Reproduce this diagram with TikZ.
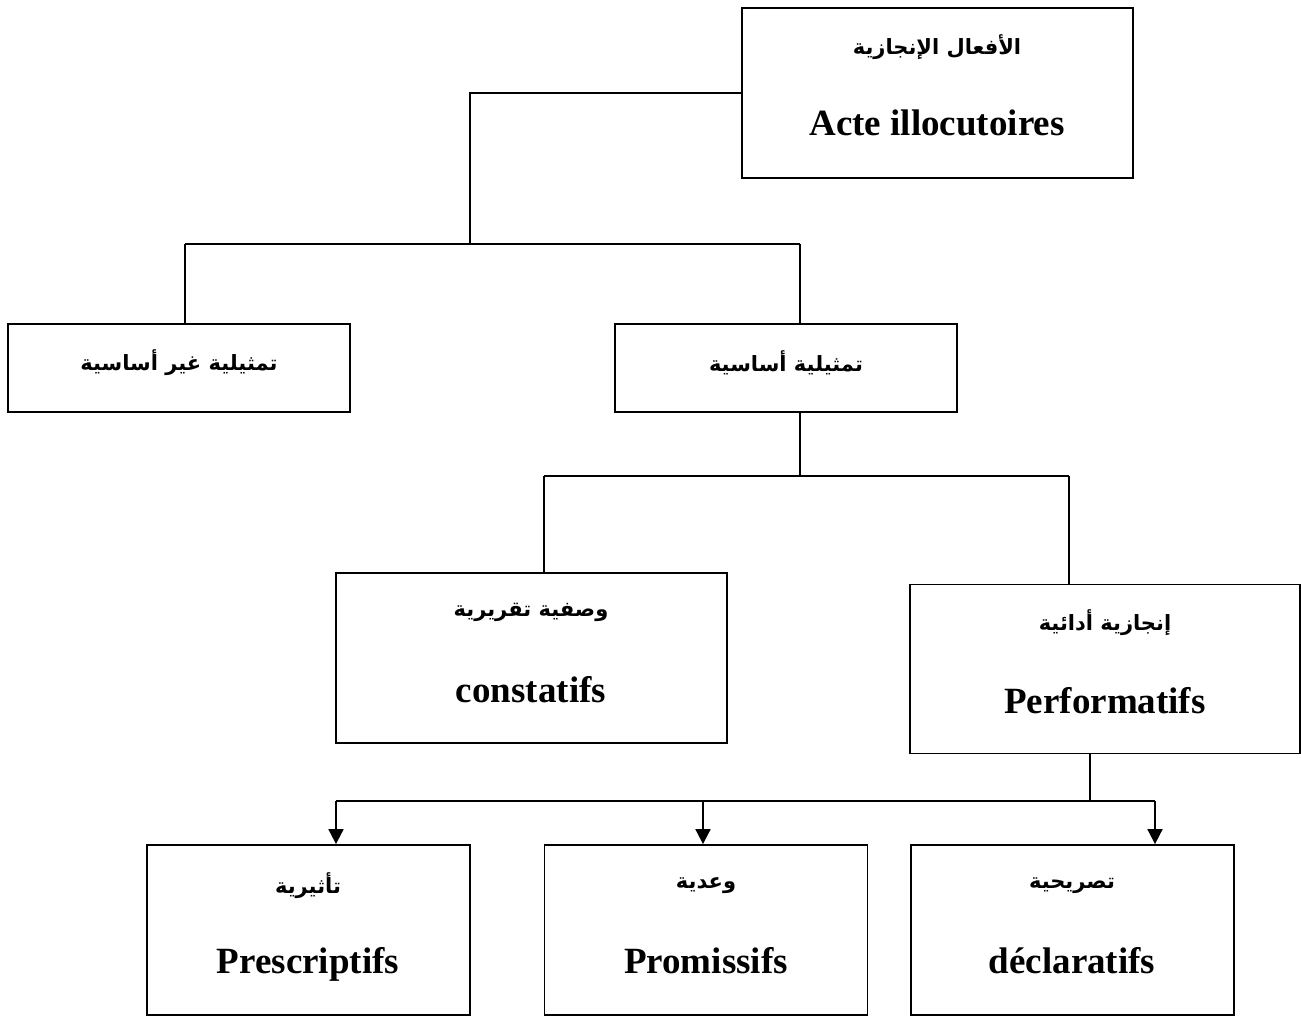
\documentclass[tikz,border=0pt]{standalone}
\usepackage{fontspec}
\setmainfont{Liberation Serif}
\newfontfamily\arabicfont[Script=Arabic]{DejaVu Sans}
\TeXXeTstate=1
\usetikzlibrary{arrows.meta}

\tikzset{
  box/.style={draw, line width=1.8pt, rectangle, inner sep=0pt},
  link/.style={line width=1.8pt},
  arrowlink/.style={line width=1.8pt, -{Triangle[width=15pt,length=15pt]}},
  lat/.style={anchor=base, inner sep=0pt, font=\fontsize{37}{44}\selectfont\bfseries},
  ar/.style={inner sep=0pt, font=\fontsize{21}{26}\selectfont\arabicfont\bfseries},
}
\newcommand{\rtl}[1]{\beginR #1\endR}

\begin{document}
\begin{tikzpicture}[x=1pt, y=-1pt]
\useasboundingbox (0,0) rectangle (1301,1016);

% boxes
\node[box, minimum width=391pt, minimum height=170pt] (top) at (937.5,93) {};
\node[box, minimum width=342pt, minimum height=88pt] (left) at (179,368) {};
\node[box, minimum width=342pt, minimum height=88pt] (mid) at (786,368) {};
\node[box, minimum width=391pt, minimum height=170pt] (cons) at (531.5,658) {};
\node[box, minimum width=390pt, minimum height=169pt] (perf) at (1105,669) {};
\node[box, minimum width=323pt, minimum height=170pt] (pres) at (308.5,930) {};
\node[box, minimum width=323pt, minimum height=170pt] (prom) at (706,930) {};
\node[box, minimum width=323pt, minimum height=170pt] (decl) at (1072.5,930) {};

% labels
\node[ar] (t1) at (937,47) {\rtl{الأفعال الإنجازية}};
\node[lat] (t2) at (937,136) {Acte illocutoires};
\node[ar] (t3) at (179,363) {\rtl{تمثيلية غير أساسية}};
\node[ar] (t4) at (786,363) {\rtl{تمثيلية أساسية}};
\node[ar] (t5) at (531,612) {\rtl{وصفية تقريرية}};
\node[lat] (t6) at (531,702) {constatifs};
\node[ar] (t7) at (1105,623) {\rtl{إنجازية أدائية}};
\node[lat] (t8) at (1105,713) {Performatifs};
\node[ar] (t9) at (308,886) {\rtl{تأثيرية}};
\node[lat] (t10) at (308,973) {Prescriptifs};
\node[ar] (t11) at (706,886) {\rtl{وعدية}};
\node[lat] (t12) at (706,973) {Promissifs};
\node[ar] (t13) at (1072,886) {\rtl{تصريحية}};
\node[lat] (t14) at (1072,973) {déclaratifs};

% first branching
\coordinate (j1) at (470,244);
\coordinate (b1) at (185,244);
\coordinate (b2) at (800,244);
\draw[link] (top.west) -| (j1);
\draw[link] (b1) -- (b2);
\draw[link] (b1) -- (b1 |- left.north);
\draw[link] (b2) -- (b2 |- mid.north);

% second branching
\coordinate (j2) at (800,476);
\coordinate (c1) at (544,476);
\coordinate (c2) at (1069,476);
\draw[link] (j2 |- mid.south) -- (j2);
\draw[link] (c1) -- (c2);
\draw[link] (c1) -- (c1 |- cons.north);
\draw[link] (c2) -- (c2 |- perf.north);

% third branching, with arrows
\coordinate (j3) at (1090,801);
\coordinate (d1) at (336,801);
\coordinate (d2) at (703,801);
\coordinate (d3) at (1155,801);
\draw[link] (j3 |- perf.south) -- (j3);
\draw[link] (d1) -- (d3);
\draw[arrowlink] (d1) -- (d1 |- pres.north);
\draw[arrowlink] (d2) -- (d2 |- prom.north);
\draw[arrowlink] (d3) -- (d3 |- decl.north);
\end{tikzpicture}
\end{document}
